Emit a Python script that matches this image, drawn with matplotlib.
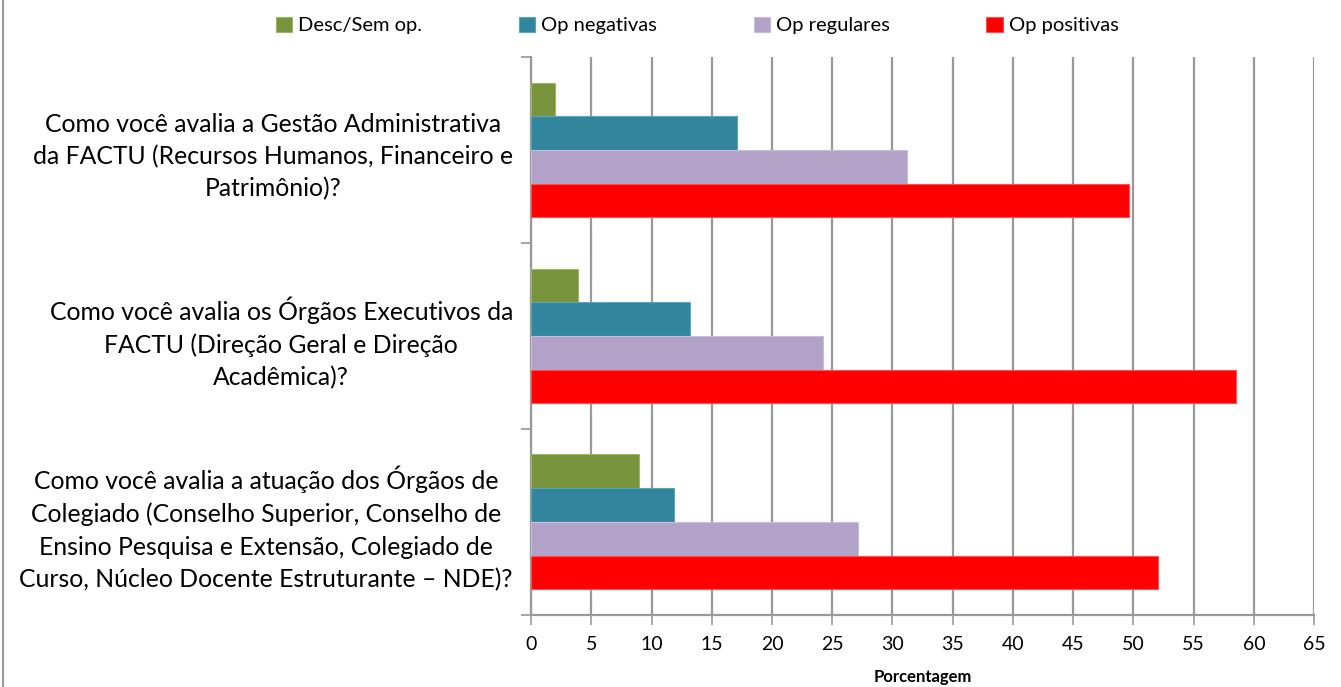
import numpy as np
import matplotlib
matplotlib.use("Agg")
import matplotlib.pyplot as plt
from matplotlib.lines import Line2D

plt.rcParams["font.family"] = ["Lato", "DejaVu Sans"]

questions = [
    "Como você avalia a Gestão Administrativa\nda FACTU (Recursos Humanos, Financeiro e\nPatrimônio)?",
    "Como você avalia os Órgãos Executivos da\nFACTU (Direção Geral e Direção\nAcadêmica)?",
    "Como você avalia a atuação dos Órgãos de\nColegiado (Conselho Superior, Conselho de\nEnsino Pesquisa e Extensão, Colegiado de\nCurso, Núcleo Docente Estruturante – NDE)?",
]
series_names = ["Desc/Sem op.", "Op negativas", "Op regulares", "Op positivas"]
desc_sem_op = [2.0, 3.9, 9.0]
op_negativas = [17.1, 13.2, 11.9]
op_regulares = [31.2, 24.2, 27.1]
op_positivas = [49.6, 58.5, 52.0]
colors = ["#77933C", "#31859C", "#B2A2C7", "#FF0000"]
edges = ["#9BB85E", "#5BA6BD", "#C9BCDA", "#FF5050"]
xticks = list(range(0, 70, 5))

fig = plt.figure(figsize=(13.41, 6.87), dpi=100)
ax = fig.add_axes([0.396, 0.105, 0.584, 0.812])

values = [desc_sem_op, op_negativas, op_regulares, op_positivas]
n = len(values)
group_w = 0.725
bar_h = group_w / n
y = np.arange(len(questions))
for i, (vals, name) in enumerate(zip(values, series_names)):
    offs = -group_w / 2 + bar_h * (i + 0.5)
    ax.barh(y + offs, vals, height=bar_h, color=colors[i], edgecolor=edges[i],
            linewidth=0.8, label=name, zorder=3)

ax.set_xlim(0, 65)
ax.set_ylim(2.5, -0.5)
ax.set_xticks(xticks)
ax.set_xticklabels([str(t) for t in xticks], fontsize=14)
ax.grid(axis="x", color="#999999", linewidth=1.6, zorder=0)

ax.set_yticks(y)
ax.set_yticklabels(questions, fontsize=17.8, multialignment="center",
                   linespacing=1.48)
ax.tick_params(axis="y", length=0, pad=13)
ax.set_yticks([-0.5, 0.5, 1.5, 2.5], minor=True)
ax.tick_params(axis="y", which="minor", length=7, color="#999999", width=1.2)
ax.tick_params(axis="x", length=7, color="#999999", width=1.2, pad=8)

for s in ["top", "right"]:
    ax.spines[s].set_visible(False)
for s in ["left", "bottom"]:
    ax.spines[s].set_color("#999999")
    ax.spines[s].set_linewidth(1.6)

ax.set_xlabel("Porcentagem", fontsize=12, fontweight="bold", labelpad=12)

handles, labels = ax.get_legend_handles_labels()
fig.legend(handles, labels, loc="center", bbox_to_anchor=(0.52, 0.963), ncol=4,
           frameon=False, fontsize=14.5, handlelength=0.8, handleheight=0.8,
           handletextpad=0.3, columnspacing=4.8)

fig.add_artist(Line2D([0.0025, 0.0025], [0, 1], transform=fig.transFigure,
                      color="#999999", linewidth=1.5))

fig.savefig("out.png", dpi=100)
